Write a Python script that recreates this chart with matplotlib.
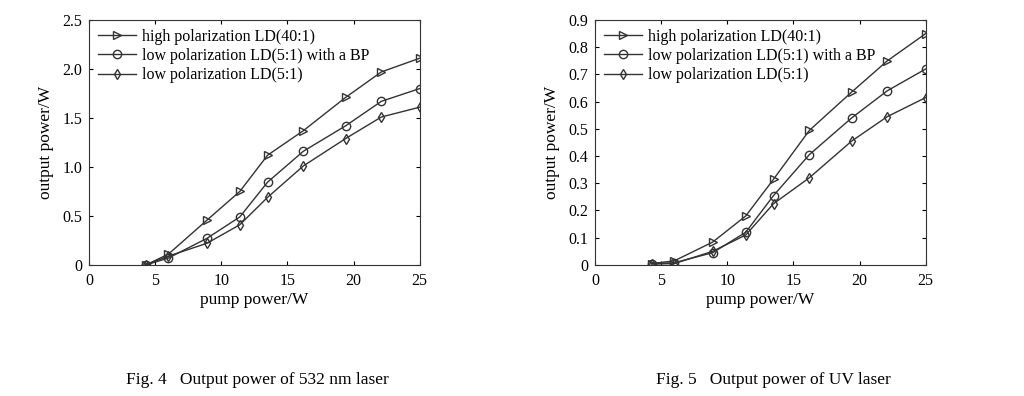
import matplotlib
matplotlib.use("Agg")
import matplotlib.pyplot as plt

plt.rcParams["font.family"] = ["Liberation Serif", "DejaVu Serif"]

pump = [4.3, 6.0, 8.9, 11.4, 13.5, 16.2, 19.4, 22.1, 25.0]
labels = ["high polarization LD(40:1)", "low polarization LD(5:1) with a BP", "low polarization LD(5:1)"]
markers = [">", "o", "d"]

# Fig. 4: 532 nm output power (W)
green_high = [0.0, 0.11, 0.455, 0.75, 1.12, 1.37, 1.71, 1.97, 2.11]
green_bp = [0.0, 0.07, 0.27, 0.49, 0.845, 1.16, 1.42, 1.67, 1.80]
green_low = [0.0, 0.09, 0.22, 0.41, 0.69, 1.01, 1.29, 1.51, 1.61]

# Fig. 5: UV output power (W)
uv_high = [0.005, 0.015, 0.084, 0.18, 0.315, 0.494, 0.635, 0.75, 0.85]
uv_bp = [0.005, 0.008, 0.045, 0.12, 0.255, 0.405, 0.54, 0.64, 0.72]
uv_low = [0.003, 0.005, 0.05, 0.11, 0.225, 0.32, 0.455, 0.545, 0.615]


def panel(ax, series, ymax, ystep, yfmt):
    for ys, m, lab in zip(series, markers, labels):
        ax.plot(pump, ys, color="#333333", lw=1.0, marker=m, ms=6 if m != "d" else 5.5,
                mfc="none", mec="#333333", mew=1.0, label=lab)
    ax.set_xlim(0, 25)
    ax.set_ylim(0, ymax)
    ax.set_xticks(range(0, 26, 5))
    n = int(round(ymax / ystep))
    ticks = [i * ystep for i in range(n + 1)]
    ax.set_yticks(ticks)
    ax.set_yticklabels(["0"] + [yfmt.format(t) for t in ticks[1:]])
    ax.tick_params(direction="in", top=True, right=True, labelsize=11.5, length=3)
    ax.tick_params(axis="x", pad=6)
    ax.tick_params(axis="y", pad=5)
    ax.set_xlabel("pump power/W", fontsize=12.5, labelpad=2)
    ax.set_ylabel("output power/W", fontsize=12.5, labelpad=6)
    ax.legend(loc="upper left", frameon=False, fontsize=11.5, handlelength=2.4,
              borderaxespad=0.15, labelspacing=0.2, handletextpad=0.4)
    for s in ax.spines.values():
        s.set_color("#333333")


fig = plt.figure(figsize=(10.24, 3.96), dpi=100)
ax1 = fig.add_axes([0.0869, 0.331, 0.323, 0.6185])
ax2 = fig.add_axes([0.581, 0.331, 0.323, 0.6185])
panel(ax1, [green_high, green_bp, green_low], 2.5, 0.5, "{:.1f}")
panel(ax2, [uv_high, uv_bp, uv_low], 0.9, 0.1, "{:.1f}")

fig.text(0.251, 0.03, "Fig. 4   Output power of 532 nm laser", ha="center", fontsize=12.5)
fig.text(0.755, 0.03, "Fig. 5   Output power of UV laser", ha="center", fontsize=12.5)

fig.savefig("out.png", dpi=100)
